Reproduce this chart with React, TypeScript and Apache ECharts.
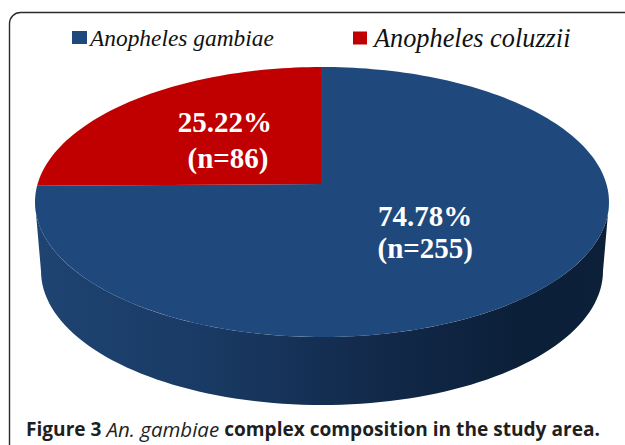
import React, { useEffect, useRef } from "react";
import * as echarts from "echarts";

const speciesNames = ["Anopheles gambiae", "Anopheles coluzzii"];
const speciesCounts = [255, 86];
const speciesColors = ["#1f497d", "#c00000"];
const captionBold1 = "Figure 3";
const captionItalic = "An. gambiae";
const captionBold2 = "complex composition in the study area.";

const total = speciesCounts.reduce((a, b) => a + b, 0);
const pctOf = (n: number) => ((n / total) * 100).toFixed(2) + "%";

// Perspective geometry of the disc
const CX = 322, CY = 202, RX = 287, RY = 135;
const APEX_X = 321, APEX_Y = 184;
const BX = 322, BY = 271, BRX = 281, BRY = 134;
const DEG = Math.PI / 180;

// Point on the rim for a sweep angle, measured clockwise from the top, through the apex
function rim(thetaDeg: number): number[] {
  const dx = Math.sin(thetaDeg * DEG) * RX;
  const dy = -Math.cos(thetaDeg * DEG) * RY;
  const ox = APEX_X - CX, oy = APEX_Y - CY;
  const a = (dx * dx) / (RX * RX) + (dy * dy) / (RY * RY);
  const b = 2 * ((ox * dx) / (RX * RX) + (oy * dy) / (RY * RY));
  const c = (ox * ox) / (RX * RX) + (oy * oy) / (RY * RY) - 1;
  const t = (-b + Math.sqrt(b * b - 4 * a * c)) / (2 * a);
  return [APEX_X + dx * t, APEX_Y + dy * t];
}

function wedge(from: number, to: number): number[][] {
  const pts: number[][] = [[APEX_X, APEX_Y]];
  const steps = Math.ceil(Math.abs(to - from) / 1.5);
  for (let i = 0; i <= steps; i++) pts.push(rim(from + ((to - from) * i) / steps));
  return pts;
}

function sidePoints(): number[][] {
  const pts: number[][] = [];
  for (let a = 0; a <= 180; a += 2) {
    pts.push([CX + RX * Math.cos(a * DEG), CY + RY * Math.sin(a * DEG)]);
  }
  for (let a = 180; a >= 0; a -= 2) {
    pts.push([BX + BRX * Math.cos(a * DEG), BY + BRY * Math.sin(a * DEG)]);
  }
  return pts;
}

const LABEL_FONT = 'bold 29px "Liberation Serif"';

function labelEls(mid: number, f: number, n: number, dx2: number, gap: number, dy: number) {
  const x = APEX_X + Math.sin(mid * DEG) * RX * f;
  const y = APEX_Y - Math.cos(mid * DEG) * RY * f + dy;
  const common = { fill: "#ffffff", font: LABEL_FONT, align: "center", verticalAlign: "middle" };
  return [
    { type: "text", z2: 5, style: { ...common, text: pctOf(n), x, y: y - gap } },
    { type: "text", z2: 5, style: { ...common, text: `(n=${n})`, x: x + dx2, y: y + gap } },
  ];
}

export default function App() {
  const ref = useRef<HTMLDivElement>(null);
  useEffect(() => {
    document.body.style.margin = "0";
    const chart = echarts.init(ref.current!, undefined, { renderer: "svg" });
    chart.setOption({
      animation: false,
      backgroundColor: "#ffffff",
      graphic: [
        {
          type: "rect",
          z: -1,
          shape: { x: 9.5, y: 12.5, width: 660, height: 480, r: 11 },
          style: { fill: "#ffffff", stroke: "#2a2a2a", lineWidth: 1.4 },
        },
      ],
      title: {
        left: 26,
        top: 419,
        padding: 0,
        text: `{b|${captionBold1}} {i|${captionItalic}} {b|${captionBold2}}`,
        textStyle: {
          rich: {
            b: { fontFamily: "Open Sans", fontWeight: "bold", fontSize: 19.1, color: "#1f1f1f" },
            i: { fontFamily: "Open Sans", fontStyle: "italic", fontWeight: "normal", fontSize: 20.5, color: "#1f1f1f" },
          },
        },
      },
      legend: [
        {
          data: [speciesNames[0]],
          left: 72,
          top: 26,
          padding: 0,
          icon: "rect",
          itemWidth: 15,
          itemHeight: 13,
          itemGap: 0,
          selectedMode: false,
          textStyle: {
            fontFamily: "Liberation Serif",
            fontStyle: "italic",
            fontSize: 23.4,
            color: "#111111",
            padding: [0, 0, 0, -2],
          },
        },
        {
          data: [speciesNames[1]],
          left: 353,
          top: 25,
          padding: 0,
          icon: "rect",
          itemWidth: 14,
          itemHeight: 13,
          selectedMode: false,
          textStyle: {
            fontFamily: "Liberation Serif",
            fontStyle: "italic",
            fontSize: 26.3,
            color: "#111111",
            padding: [0, 0, 0, 2],
          },
        },
      ],
      series: [
        {
          type: "custom",
          name: speciesNames[0],
          coordinateSystem: "none",
          itemStyle: { color: speciesColors[0] },
          data: [speciesCounts[0]],
          silent: true,
          renderItem: (_p: any, api: any) => {
            const n = api.value(0);
            const sweep = (n / total) * 360;
            return {
              type: "group",
              children: [
                {
                  type: "polygon",
                  z2: 1,
                  shape: { points: sidePoints() },
                  style: {
                    fill: {
                      type: "linear",
                      x: 0,
                      y: 0,
                      x2: 1,
                      y2: 0,
                      colorStops: [
                        { offset: 0, color: "#1f4472" },
                        { offset: 0.3, color: "#193a64" },
                        { offset: 0.6, color: "#12294a" },
                        { offset: 0.85, color: "#0b1f38" },
                        { offset: 1, color: "#0c2038" },
                      ],
                    },
                  },
                },
                {
                  type: "polygon",
                  z2: 2,
                  shape: { points: wedge(0, sweep) },
                  style: { fill: speciesColors[0] },
                },
                ...labelEls(sweep / 2, 0.51, n, 0, 16, 0),
              ],
            };
          },
        },
        {
          type: "custom",
          name: speciesNames[1],
          coordinateSystem: "none",
          itemStyle: { color: speciesColors[1] },
          data: [speciesCounts[1]],
          silent: true,
          z: 3,
          renderItem: (_p: any, api: any) => {
            const n = api.value(0);
            const sweep = (n / total) * 360;
            return {
              type: "group",
              children: [
                {
                  type: "polygon",
                  z2: 3,
                  shape: { points: wedge(-sweep, 0) },
                  style: { fill: speciesColors[1] },
                },
                ...labelEls(-sweep / 2, 0.47, n, 3, 18, 1),
              ],
            };
          },
        },
      ],
    });
    return () => chart.dispose();
  }, []);
  return <div ref={ref} style={{ width: 625, height: 445 }} />;
}
